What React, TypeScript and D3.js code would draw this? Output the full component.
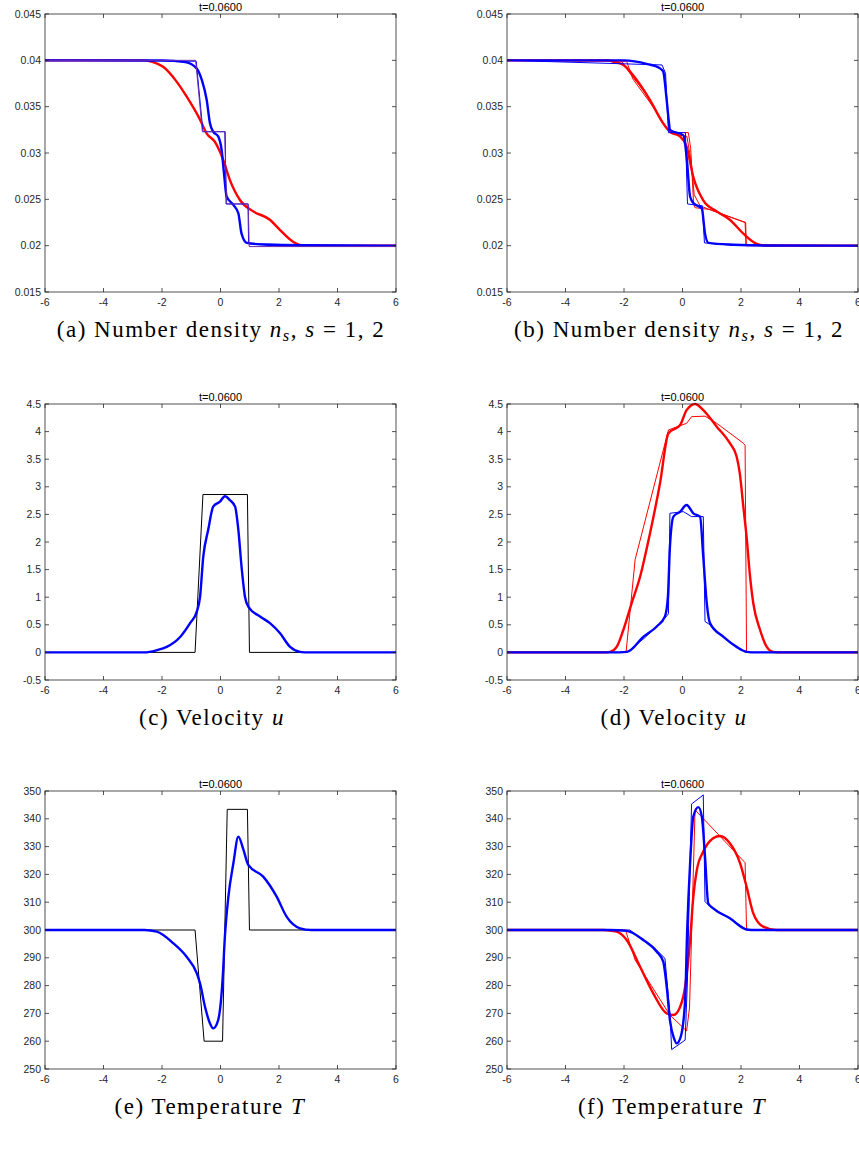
import React from 'react';
import * as d3 from 'd3';

type P = [number, number];

const W = 859;
const H = 1154;

const xTicks = [-6, -4, -2, 0, 2, 4, 6];
const densTicks = [0.015, 0.02, 0.025, 0.03, 0.035, 0.04, 0.045];
const velTicks = [-0.5, 0, 0.5, 1, 1.5, 2, 2.5, 3, 3.5, 4, 4.5];
const tempTicks = [250, 260, 270, 280, 290, 300, 310, 320, 330, 340, 350];
const titleText = 't=0.0600';

// ---- Panel (a): number density ----
const aRed: P[] = [[-6, 0.04], [-2.6, 0.04], [-2.3, 0.0398], [-1.96, 0.0393], [-1.5, 0.0377], [-1.16, 0.0361], [-0.7, 0.0336], [-0.47, 0.0321], [-0.19, 0.0312], [0.1, 0.0292], [0.32, 0.0271], [0.67, 0.0249], [1.12, 0.0237], [1.69, 0.0228], [2.03, 0.0217], [2.49, 0.0204], [2.9, 0.02], [6, 0.02]];
const aBlue: P[] = [[-6, 0.04], [-2, 0.04], [-1.2, 0.0398], [-0.81, 0.0391], [-0.64, 0.0379], [-0.47, 0.0357], [-0.36, 0.0332], [-0.25, 0.0323], [-0.08, 0.0318], [0.04, 0.0303], [0.12, 0.0278], [0.21, 0.0253], [0.44, 0.0244], [0.61, 0.0235], [0.72, 0.0213], [0.9, 0.0203], [1.6, 0.0201], [3, 0.02], [6, 0.02]];
const aStepPurple: P[] = [[-6, 0.04], [-0.85, 0.04], [-0.62, 0.0323], [0.14, 0.0323], [0.21, 0.0245], [0.95, 0.0245], [0.98, 0.0199], [6, 0.0199]];
const aStepBlue: P[] = [[-6, 0.04], [-0.83, 0.0399], [-0.6, 0.0323], [0.16, 0.0323], [0.19, 0.0245], [0.94, 0.0245], [0.96, 0.0202], [6, 0.02]];

// ---- Panel (b): number density ----
const bRed: P[] = [[-6, 0.04], [-2.6, 0.04], [-2.3, 0.0398], [-2.02, 0.0395], [-1.57, 0.0379], [-1.11, 0.0357], [-0.66, 0.0332], [-0.43, 0.0323], [-0.09, 0.0318], [0.14, 0.0307], [0.37, 0.0274], [0.71, 0.0249], [1.17, 0.0237], [1.62, 0.0228], [2.08, 0.0213], [2.54, 0.0202], [2.9, 0.02], [6, 0.02]];
const bRedThin: P[] = [[-6, 0.04], [-1.91, 0.0399], [-1.7, 0.038], [-1.1, 0.0354], [-0.6, 0.033], [-0.45, 0.0322], [0.2, 0.0322], [0.28, 0.0305], [0.38, 0.0245], [0.43, 0.0241], [0.94, 0.0239], [2.14, 0.0225], [2.17, 0.02], [6, 0.02]];
const bRedThin2: P[] = [[-6, 0.04], [-2.1, 0.04], [-1.8, 0.0386], [-1.2, 0.0362], [-0.6, 0.0328], [-0.4, 0.0321], [0.15, 0.0318], [0.3, 0.029], [0.4, 0.0255], [0.6, 0.0243], [1.0, 0.0238], [1.8, 0.0229], [2.16, 0.0225], [2.18, 0.0201], [6, 0.02]];
const bBlue: P[] = [[-6, 0.04], [-2, 0.04], [-1.2, 0.0396], [-0.8, 0.0392], [-0.66, 0.0388], [-0.55, 0.036], [-0.47, 0.0335], [-0.43, 0.0325], [0.03, 0.0319], [0.14, 0.0296], [0.26, 0.0253], [0.37, 0.0246], [0.66, 0.024], [0.77, 0.0213], [0.89, 0.0203], [1.75, 0.0201], [3, 0.02], [6, 0.02]];
const bBlueThin: P[] = [[-6, 0.04], [-0.7, 0.0395], [-0.58, 0.0386], [-0.48, 0.0322], [0.1, 0.0322], [0.17, 0.0245], [0.68, 0.0243], [0.75, 0.0203], [1.5, 0.0201], [6, 0.02]];

// ---- Panel (c): velocity ----
const cBlack: P[] = [[-6, 0], [-0.87, 0], [-0.6, 2.86], [0.92, 2.86], [0.99, 0], [6, 0]];
const cBlue: P[] = [[-6, 0], [-2.6, 0], [-2.18, 0.04], [-1.84, 0.1], [-1.38, 0.28], [-1.04, 0.53], [-0.81, 0.74], [-0.7, 1.0], [-0.59, 1.73], [-0.42, 2.22], [-0.25, 2.64], [-0.02, 2.73], [0.15, 2.83], [0.32, 2.76], [0.5, 2.64], [0.61, 2.22], [0.72, 1.55], [0.84, 1.0], [0.95, 0.83], [1.35, 0.65], [1.69, 0.53], [2.03, 0.35], [2.38, 0.1], [2.72, 0.01], [3, 0], [6, 0]];

// ---- Panel (d): velocity ----
const dRed: P[] = [[-6, 0], [-2.7, 0], [-2.48, 0.01], [-2.25, 0.1], [-2.02, 0.41], [-1.74, 0.89], [-1.45, 1.37], [-1.11, 2.16], [-0.77, 3.06], [-0.48, 3.97], [-0.08, 4.12], [0.14, 4.39], [0.43, 4.5], [0.71, 4.39], [1.17, 4.09], [1.62, 3.79], [1.85, 3.55], [1.96, 3.24], [2.08, 2.64], [2.19, 2.1], [2.31, 1.37], [2.42, 0.89], [2.65, 0.41], [2.88, 0.1], [3.1, 0.01], [3.4, 0], [6, 0]];
const dRedThin: P[] = [[-6, 0], [-1.93, 0], [-1.62, 1.68], [-0.48, 4.03], [0.14, 4.15], [0.31, 4.27], [0.77, 4.28], [1.17, 4.15], [2.08, 3.79], [2.14, 3.75], [2.19, 0], [6, 0]];
const dBlue: P[] = [[-6, 0], [-2.4, 0], [-1.9, 0.01], [-1.34, 0.28], [-0.88, 0.47], [-0.6, 0.65], [-0.5, 1.0], [-0.43, 1.91], [-0.31, 2.46], [-0.08, 2.55], [0.14, 2.67], [0.37, 2.52], [0.6, 2.46], [0.71, 1.73], [0.83, 0.89], [0.94, 0.53], [1.4, 0.28], [1.85, 0.1], [2.2, 0.01], [2.5, 0], [6, 0]];
const dBlueThin: P[] = [[-6, 0], [-1.9, 0], [-1.3, 0.26], [-0.6, 0.62], [-0.48, 0.7], [-0.43, 2.52], [0.03, 2.55], [0.31, 2.46], [0.71, 2.46], [0.77, 0.56], [0.94, 0.5], [1.4, 0.28], [1.85, 0.1], [2.2, 0], [6, 0]];

// ---- Panel (e): temperature ----
const eBlack: P[] = [[-6, 300], [-0.87, 300], [-0.56, 260], [0.07, 260], [0.23, 343.4], [0.92, 343.4], [0.99, 300], [6, 300]];
const eBlue: P[] = [[-6, 300], [-2.6, 300], [-2.18, 299.4], [-1.61, 295.2], [-1.16, 290.4], [-0.81, 284.4], [-0.7, 280.8], [-0.53, 272.4], [-0.36, 266.4], [-0.25, 264.6], [-0.08, 267.6], [0.07, 282.0], [0.15, 297.6], [0.27, 312.0], [0.44, 324.0], [0.61, 333.6], [0.78, 329.0], [0.95, 323.4], [1.46, 319.2], [1.92, 312.0], [2.26, 304.8], [2.72, 300.6], [3.1, 300], [6, 300]];

// ---- Panel (f): temperature ----
const fRed: P[] = [[-6, 300], [-2.7, 300], [-2.25, 299.4], [-1.91, 296.4], [-1.45, 286.8], [-1.0, 277.2], [-0.54, 270], [-0.31, 269.4], [-0.08, 272.4], [0.09, 279.6], [0.26, 296.4], [0.37, 312], [0.49, 321.6], [0.71, 328.2], [1.05, 333], [1.28, 333.8], [1.62, 331.2], [1.97, 324], [2.19, 315.6], [2.42, 306], [2.76, 301.2], [3.2, 300], [6, 300]];
const fRedThin: P[] = [[-6, 300], [-1.95, 300], [-1.62, 289.2], [-0.43, 269.4], [0.14, 263.7], [0.24, 272], [0.43, 343.2], [2.14, 324.2], [2.19, 300], [6, 300]];
const fBlue: P[] = [[-6, 300], [-2.5, 300], [-1.91, 299.7], [-1.34, 296.4], [-0.88, 292.2], [-0.66, 288.6], [-0.54, 279.6], [-0.43, 267.6], [-0.29, 261.0], [-0.2, 259.2], [-0.06, 261.6], [0.09, 274.8], [0.16, 300], [0.26, 324], [0.37, 340.8], [0.54, 344.2], [0.66, 340.8], [0.77, 326.4], [0.88, 309.6], [1.05, 307.8], [1.62, 304.2], [2.19, 300.2], [2.5, 300], [6, 300]];
const fBlueThin: P[] = [[-6, 300], [-1.8, 300], [-1.0, 294], [-0.6, 289.8], [-0.43, 270], [-0.37, 257.0], [0.09, 260.4], [0.17, 282], [0.23, 312], [0.31, 345.3], [0.71, 348.6], [0.77, 310.2], [0.94, 308.4], [1.62, 304.2], [2.19, 300.2], [6, 300]];

const RED = '#ff0000';
const BLUE = '#0000ff';
const PURPLE = '#6a2bb5';
const BLACK = '#000000';
const AXIS = '#262626';
const TICKFONT = '"Liberation Sans", Arial, Helvetica, sans-serif';
const CAPFONT = '"Liberation Serif", "Times New Roman", serif';

interface Series { data: P[]; color: string; width: number; smooth: boolean }

interface PanelProps {
  id: string;
  x0: number; x1: number; y0: number; y1: number;
  yDomain: [number, number];
  yTicks: number[];
  series: Series[];
}

function Panel({ id, x0, x1, y0, y1, yDomain, yTicks, series }: PanelProps) {
  const xs = d3.scaleLinear().domain([-6, 6]).range([x0, x1]);
  const ys = d3.scaleLinear().domain(yDomain).range([y1, y0]);
  const smoothLine = d3.line<P>().x(d => xs(d[0])).y(d => ys(d[1])).curve(d3.curveMonotoneX);
  const straightLine = d3.line<P>().x(d => xs(d[0])).y(d => ys(d[1]));
  const tl = 4;
  const fmt = (v: number) => String(+v.toFixed(4));
  return (
    <g>
      <defs>
        <clipPath id={`clip-${id}`}>
          <rect x={x0} y={y0 - 2} width={x1 - x0} height={y1 - y0 + 4} />
        </clipPath>
      </defs>
      <g clipPath={`url(#clip-${id})`}>
        {series.map((s, i) => (
          <path key={i} d={(s.smooth ? smoothLine : straightLine)(s.data) || ''} fill="none" stroke={s.color}
            strokeWidth={s.width} strokeLinejoin="round" strokeLinecap="round" />
        ))}
      </g>
      <rect x={x0} y={y0} width={x1 - x0} height={y1 - y0} fill="none" stroke={AXIS} strokeWidth={0.8} />
      {xTicks.map(t => (
        <g key={`x${t}`}>
          <line x1={xs(t)} x2={xs(t)} y1={y1} y2={y1 - tl} stroke={AXIS} strokeWidth={0.8} />
          <line x1={xs(t)} x2={xs(t)} y1={y0} y2={y0 + tl} stroke={AXIS} strokeWidth={0.8} />
          <text x={xs(t)} y={y1 + 14} textAnchor="middle" fontFamily={TICKFONT} fontSize={10.5} fill={AXIS}>{t}</text>
        </g>
      ))}
      {yTicks.map(t => (
        <g key={`y${t}`}>
          <line x1={x0} x2={x0 + tl} y1={ys(t)} y2={ys(t)} stroke={AXIS} strokeWidth={0.8} />
          <line x1={x1} x2={x1 - tl} y1={ys(t)} y2={ys(t)} stroke={AXIS} strokeWidth={0.8} />
          <text x={x0 - 4} y={ys(t) + 3.5} textAnchor="end" fontFamily={TICKFONT} fontSize={10.5} fill={AXIS}>{fmt(t)}</text>
        </g>
      ))}
      <text x={(x0 + x1) / 2} y={y0 - 3} textAnchor="middle" fontFamily={TICKFONT} fontSize={11} fill={BLACK}>{titleText}</text>
    </g>
  );
}

const th = (data: P[], color: string): Series => ({ data, color, width: 2.4, smooth: true });
const tn = (data: P[], color: string): Series => ({ data, color, width: 1, smooth: false });

export default function App() {
  const L = { x0: 45, x1: 396 };
  const R = { x0: 507, x1: 858 };
  const r1 = { y0: 14, y1: 292 };
  const r2 = { y0: 404, y1: 680 };
  const r3 = { y0: 791, y1: 1069 };
  const capSize = 23;
  const ls = 1.5;
  const sub = (s: string) => (<><tspan fontStyle="italic">{s[0]}</tspan><tspan fontStyle="italic" fontSize="72%" dy={4}>{s[1]}</tspan></>);
  const densCap = (lbl: string) => (
    <>({lbl}) Number density {sub('ns')}<tspan dy={-4}>, </tspan><tspan fontStyle="italic">s</tspan> = 1, 2</>
  );
  return (
    <svg width={W} height={H} style={{ position: 'absolute', left: 0, top: 0, background: '#fff' }}>
      <rect x={0} y={0} width={W} height={H} fill="#fff" />
      <Panel id="a" {...L} {...r1} yDomain={[0.015, 0.045]} yTicks={densTicks}
        series={[th(aRed, RED), th(aBlue, BLUE), tn(aStepBlue, BLUE), tn(aStepPurple, PURPLE)]} />
      <Panel id="b" {...R} {...r1} yDomain={[0.015, 0.045]} yTicks={densTicks}
        series={[th(bRed, RED), tn(bRedThin2, RED), tn(bRedThin, RED), th(bBlue, BLUE), tn(bBlueThin, BLUE)]} />
      <Panel id="c" {...L} {...r2} yDomain={[-0.5, 4.5]} yTicks={velTicks}
        series={[tn(cBlack, BLACK), th(cBlue, BLUE)]} />
      <Panel id="d" {...R} {...r2} yDomain={[-0.5, 4.5]} yTicks={velTicks}
        series={[th(dRed, RED), tn(dRedThin, RED), th(dBlue, BLUE), tn(dBlueThin, BLUE)]} />
      <Panel id="e" {...L} {...r3} yDomain={[250, 350]} yTicks={tempTicks}
        series={[tn(eBlack, BLACK), th(eBlue, BLUE)]} />
      <Panel id="f" {...R} {...r3} yDomain={[250, 350]} yTicks={tempTicks}
        series={[th(fRed, RED), tn(fRedThin, RED), th(fBlue, BLUE), tn(fBlueThin, BLUE)]} />

      <g fontFamily={CAPFONT} fontSize={capSize} fill="#000" letterSpacing={ls}>
        <text x={221} y={337} textAnchor="middle">{densCap('a')}</text>
        <text x={679} y={337} textAnchor="middle">{densCap('b')}</text>
        <text x={212} y={725} textAnchor="middle">(c) Velocity <tspan fontStyle="italic">u</tspan></text>
        <text x={674} y={725} textAnchor="middle">(d) Velocity <tspan fontStyle="italic">u</tspan></text>
        <text x={210} y={1114} textAnchor="middle">(e) Temperature <tspan fontStyle="italic">T</tspan></text>
        <text x={672} y={1114} textAnchor="middle">(f) Temperature <tspan fontStyle="italic">T</tspan></text>
      </g>
    </svg>
  );
}
